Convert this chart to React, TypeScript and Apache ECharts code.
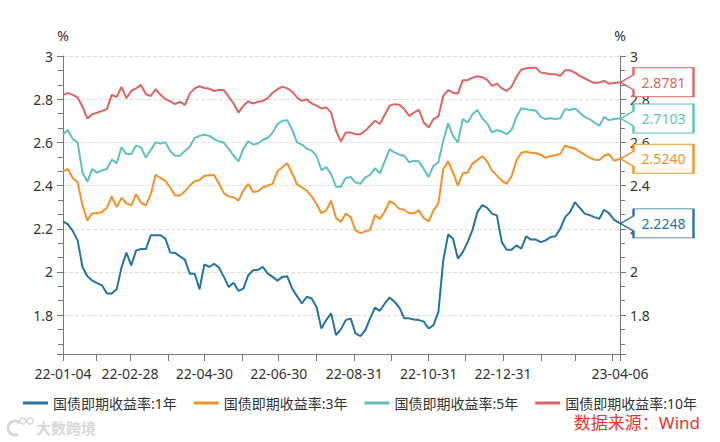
import React, { useEffect, useRef } from 'react';
import * as echarts from 'echarts';

// sampling grid: one reading every 4 calendar days from 2022-01-04, last reading 2023-04-06
const START_Y = 2022;
const START_M = 1;
const START_D = 4;
const STEP_DAYS = 4;
const LAST_DATE = '2023-04-06';

const NAMES = ['国债即期收益率:1年', '国债即期收益率:3年', '国债即期收益率:5年', '国债即期收益率:10年'];
const COLORS = ['#23749f', '#f29126', '#5ec0c0', '#de6363'];

const Y1 = [
  2.234, 2.22, 2.19, 2.146, 2.023, 1.98, 1.96, 1.948, 1.938, 1.9,
  1.9, 1.92, 2.02, 2.09, 2.03, 2.1, 2.106, 2.106, 2.17, 2.17,
  2.17, 2.154, 2.09, 2.088, 2.072, 2.057, 1.992, 1.992, 1.92, 2.035,
  2.023, 2.038, 2.02, 1.977, 1.93, 1.95, 1.912, 1.923, 1.985, 2.008,
  2.01, 2.023, 1.992, 1.977, 1.96, 1.977, 1.98, 1.923, 1.888, 1.854,
  1.885, 1.877, 1.838, 1.738, 1.777, 1.808, 1.708, 1.734, 1.777, 1.785,
  1.715, 1.703, 1.73, 1.785, 1.835, 1.82, 1.854, 1.882, 1.862, 1.835,
  1.785, 1.785, 1.78, 1.777, 1.77, 1.738, 1.754, 1.815, 2.054, 2.174,
  2.154, 2.062, 2.092, 2.138, 2.195, 2.277, 2.31, 2.297, 2.27, 2.262,
  2.138, 2.103, 2.103, 2.123, 2.108, 2.165, 2.15, 2.15, 2.138, 2.146,
  2.162, 2.165, 2.2, 2.254, 2.277, 2.323, 2.297, 2.27, 2.263, 2.254,
  2.246, 2.288, 2.272, 2.242, 2.2248,
];

const Y3 = [
  2.466, 2.477, 2.435, 2.415, 2.308, 2.238, 2.272, 2.272, 2.278, 2.297,
  2.35, 2.3, 2.343, 2.318, 2.308, 2.36, 2.32, 2.308, 2.36, 2.45,
  2.435, 2.423, 2.39, 2.354, 2.354, 2.374, 2.4, 2.42, 2.426, 2.446,
  2.448, 2.449, 2.408, 2.365, 2.35, 2.346, 2.33, 2.377, 2.408, 2.37,
  2.374, 2.392, 2.4, 2.408, 2.466, 2.485, 2.503, 2.457, 2.405, 2.392,
  2.377, 2.35, 2.315, 2.272, 2.285, 2.33, 2.25, 2.232, 2.27, 2.254,
  2.192, 2.18, 2.188, 2.195, 2.263, 2.245, 2.28, 2.328, 2.315, 2.292,
  2.288, 2.272, 2.272, 2.285, 2.25, 2.234, 2.285, 2.318, 2.477, 2.512,
  2.46, 2.4, 2.457, 2.46, 2.503, 2.518, 2.536, 2.512, 2.469, 2.446,
  2.423, 2.408, 2.442, 2.515, 2.552, 2.557, 2.552, 2.55, 2.543, 2.528,
  2.537, 2.54, 2.546, 2.585, 2.577, 2.572, 2.557, 2.543, 2.53, 2.52,
  2.518, 2.538, 2.546, 2.515, 2.524,
];

const Y5 = [
  2.638, 2.657, 2.615, 2.6, 2.46, 2.418, 2.477, 2.46, 2.47, 2.477,
  2.52, 2.503, 2.577, 2.546, 2.546, 2.585, 2.577, 2.53, 2.565, 2.6,
  2.595, 2.6, 2.56, 2.538, 2.538, 2.56, 2.58, 2.62, 2.63, 2.635,
  2.63, 2.615, 2.605, 2.598, 2.57, 2.538, 2.512, 2.57, 2.605, 2.59,
  2.595, 2.612, 2.62, 2.646, 2.685, 2.7, 2.703, 2.66, 2.6, 2.59,
  2.57, 2.562, 2.538, 2.472, 2.485, 2.454, 2.395, 2.395, 2.435, 2.44,
  2.415, 2.408, 2.438, 2.45, 2.48, 2.457, 2.512, 2.568, 2.554, 2.543,
  2.538, 2.508, 2.515, 2.512, 2.477, 2.44, 2.492, 2.508, 2.608, 2.688,
  2.63, 2.6, 2.708, 2.692, 2.73, 2.75, 2.712, 2.688, 2.646, 2.657,
  2.65, 2.638, 2.657, 2.718, 2.758, 2.754, 2.75, 2.746, 2.718, 2.708,
  2.712, 2.708, 2.712, 2.754, 2.75, 2.757, 2.738, 2.718, 2.708, 2.692,
  2.677, 2.718, 2.703, 2.708, 2.7103,
];

const Y10 = [
  2.82, 2.828, 2.82, 2.808, 2.765, 2.71, 2.73, 2.737, 2.746, 2.754,
  2.82, 2.81, 2.857, 2.805, 2.838, 2.85, 2.866, 2.823, 2.815, 2.846,
  2.82, 2.8, 2.79, 2.777, 2.788, 2.774, 2.826, 2.85, 2.86, 2.852,
  2.849, 2.838, 2.843, 2.842, 2.81, 2.78, 2.738, 2.77, 2.79, 2.78,
  2.788, 2.792, 2.805, 2.83, 2.846, 2.858, 2.85, 2.835, 2.808, 2.792,
  2.8, 2.78, 2.77, 2.757, 2.762, 2.738, 2.654, 2.605, 2.646, 2.646,
  2.638, 2.638, 2.654, 2.677, 2.7, 2.685, 2.728, 2.77, 2.777, 2.774,
  2.754, 2.723, 2.738, 2.75, 2.692, 2.669, 2.708, 2.72, 2.815, 2.842,
  2.83, 2.826, 2.888, 2.888, 2.9, 2.906, 2.902, 2.889, 2.862, 2.872,
  2.85, 2.838, 2.858, 2.903, 2.937, 2.943, 2.946, 2.946, 2.923, 2.92,
  2.915, 2.915, 2.908, 2.934, 2.934, 2.923, 2.908, 2.897, 2.885, 2.875,
  2.877, 2.885, 2.872, 2.875, 2.8781,
];

const TICK_DATES = [
  '2022-01-04', '2022-01-31', '2022-02-28', '2022-03-31', '2022-04-30', '2022-05-31',
  '2022-06-30', '2022-07-31', '2022-08-31', '2022-09-30', '2022-10-31', '2022-11-30',
  '2022-12-31', '2023-01-31', '2023-02-28', '2023-03-31', '2023-04-06',
];
const LABEL_DATES = [
  '2022-01-04', '2022-02-28', '2022-04-30', '2022-06-30',
  '2022-08-31', '2022-10-31', '2022-12-31', '2023-04-06',
];

const Y_MIN = 1.62;
const Y_MAX = 3;

const SOURCE_TEXT = '数据来源：Wind';
const WATERMARK = '大数跨境';

function ts(s: string): number {
  const [y, m, d] = s.split('-').map(Number);
  return Date.UTC(y, m - 1, d);
}
function fmt(v: number): string {
  const d = new Date(v);
  const p = (n: number) => (n < 10 ? '0' + n : '' + n);
  return p(d.getUTCFullYear() % 100) + '-' + p(d.getUTCMonth() + 1) + '-' + p(d.getUTCDate());
}

const LAST_TS = ts(LAST_DATE);
const X_VALUES: number[] = Y1.map((_, i) =>
  i === Y1.length - 1 ? LAST_TS : Date.UTC(START_Y, START_M - 1, START_D + STEP_DAYS * i)
);

const FONT = "'Noto Sans', 'Noto Sans CJK SC', sans-serif";
const TAG = 'path://M0,14.5L13,7L13,0L73,0L73,29L13,29L13,22Z';

export default function App() {
  const ref = useRef<HTMLDivElement>(null);
  useEffect(() => {
    if (!ref.current) return;
    const chart = echarts.init(ref.current, undefined, { renderer: 'svg' });
    const all = [Y1, Y3, Y5, Y10];
    const series = all.map((arr, si) => ({
      name: NAMES[si],
      type: 'line',
      yAxisIndex: 0,
      showSymbol: false,
      symbol: 'none',
      lineStyle: { width: 2, color: COLORS[si] },
      itemStyle: { color: COLORS[si] },
      data: arr.map((v, i) => [X_VALUES[i], v]),
      markPoint: {
        symbol: TAG,
        symbolSize: [73, 29],
        symbolOffset: [37, 0],
        symbolKeepAspect: false,
        itemStyle: { color: '#ffffff', borderColor: COLORS[si], borderWidth: 1.5 },
        label: {
          show: true,
          position: 'inside',
          offset: [6.5, 0],
          color: COLORS[si],
          fontSize: 14,
          fontFamily: FONT,
          formatter: (p: any) => Number(p.value).toFixed(4),
        },
        data: [{ coord: [LAST_TS, arr[arr.length - 1]], value: arr[arr.length - 1] }],
      },
    }));

    const yAxisBase = (pos: 'left' | 'right') => ({
      type: 'value',
      position: pos,
      min: Y_MIN,
      max: Y_MAX,
      splitNumber: 7,
      name: '%',
      nameLocation: 'end',
      nameGap: 14,
      nameTextStyle: { color: '#333', fontSize: 14, fontFamily: FONT, align: 'center' },
      axisLine: { show: true, lineStyle: { color: '#777', width: 1 } },
      axisTick: { show: true, length: 6, lineStyle: { color: '#777' } },
      minorTick: { show: true, splitNumber: 3, length: 5, lineStyle: { color: '#777' } },
      axisLabel: {
        color: '#333',
        fontSize: 14,
        fontFamily: FONT,
        margin: 10,
        showMinLabel: false,
        formatter: (v: number) => String(Math.round(v * 10) / 10),
      },
      splitLine: pos === 'left'
        ? { show: true, lineStyle: { color: '#dcdcdc', type: 'dashed', width: 1 } }
        : { show: false },
    });

    chart.setOption({
      animation: false,
      backgroundColor: '#ffffff',
      textStyle: { fontFamily: FONT },
      grid: { left: 63, right: 100, top: 56, bottom: 88, containLabel: false },
      legend: {
        top: 391,
        left: 'center',
        icon: 'rect',
        itemWidth: 25,
        itemHeight: 3,
        itemGap: 17,
        textStyle: { color: '#333', fontSize: 14, fontFamily: FONT },
        data: NAMES,
      },
      xAxis: {
        type: 'value',
        min: ts(TICK_DATES[0]),
        max: LAST_TS,
        axisLine: { show: true, onZero: false, lineStyle: { color: '#777', width: 1 } },
        axisTick: { show: true, length: 7, lineStyle: { color: '#777' }, customValues: TICK_DATES.map(ts) },
        axisLabel: {
          color: '#333',
          fontSize: 14,
          fontFamily: FONT,
          margin: 12,
          hideOverlap: false,
          showMinLabel: true,
          showMaxLabel: true,
          customValues: LABEL_DATES.map(ts),
          formatter: (v: number) => fmt(v),
        },
        splitLine: { show: false },
      },
      yAxis: [yAxisBase('left'), yAxisBase('right')],
      series,
      graphic: [
        {
          type: 'text',
          right: 20,
          top: 414,
          style: { text: SOURCE_TEXT, fill: '#e8342f', fontSize: 17, fontFamily: FONT },
        },
        {
          type: 'arc',
          shape: { cx: 15, cy: 428, r: 7, startAngle: Math.PI * 0.35, endAngle: Math.PI * 1.75 },
          style: { stroke: '#d6d6d6', lineWidth: 3, fill: 'none' },
        },
        { type: 'circle', shape: { cx: 23, cy: 421, r: 3 }, style: { stroke: '#d6d6d6', lineWidth: 1.5, fill: 'none' } },
        { type: 'circle', shape: { cx: 30, cy: 421, r: 3 }, style: { stroke: '#d6d6d6', lineWidth: 1.5, fill: 'none' } },
        {
          type: 'text',
          left: 36,
          top: 420,
          style: { text: WATERMARK, fill: '#d9d9d9', fontSize: 15, fontWeight: 'bold', fontFamily: FONT },
        },
      ],
    });
    return () => chart.dispose();
  }, []);
  return <div ref={ref} style={{ position: 'fixed', left: 0, top: 0, width: 720, height: 442 }} />;
}
